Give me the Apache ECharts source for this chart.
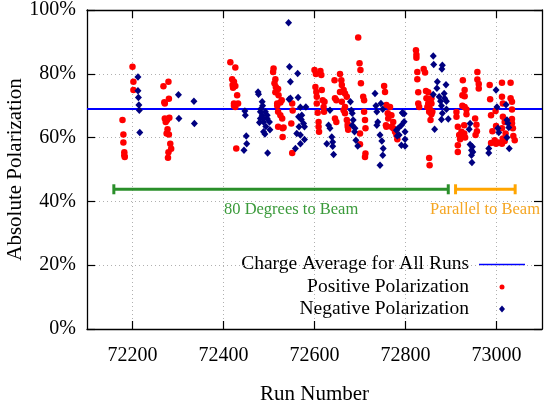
<!DOCTYPE html>
<html><head><meta charset="utf-8">
<script src="https://cdn.jsdelivr.net/npm/echarts@6/dist/echarts.min.js"></script>
<style>html,body{margin:0;padding:0;background:#fff}#c{width:544px;height:410px}</style>
</head><body><div id="c"></div>
<script>
// ---- data ----
const xTicks = [72200, 72400, 72600, 72800, 73000];
const yTicks = [0, 20, 40, 60, 80, 100];
const averagePolarization = 69.0;
const averageRunRange = [72100, 73100];
const degrees80Range = [72159, 72894];
const parallelRange = [72910, 73041];
const rangeLevel = 43.8;

const positivePolarization = [
  [72178,65.5],[72180,61.0],[72180,58.5],[72182,55.4],[72183,53.9],[72182,54.5],
  [72200,82.2],[72202,77.5],[72202,74.9],
  [72268,76.1],[72279,77.5],[72270,71.1],[72280,72.2],[72271,70.7],[72271,66.0],[72276,65.5],[72281,66.2],
  [72273,64.9],[72277,62.6],[72275,61.3],[72280,61.0],[72283,58.1],[72285,56.5],[72279,55.4],[72278,53.7],
  [72415,83.6],[72426,82.0],[72419,78.3],[72423,77.5],[72420,76.5],[72426,76.2],[72421,75.6],[72430,73.3],
  [72423,70.7],[72432,70.7],[72423,70.0],[72426,69.6],[72428,56.6],
  [72510,81.7],[72509,80.6],[72514,78.3],[72512,77.0],[72515,75.9],[72520,75.2],[72514,74.2],[72521,73.3],
  [72518,70.7],[72525,71.0],[72520,68.1],[72525,67.0],[72529,66.0],[72530,62.9],[72530,60.2],[72520,63.4],
  [72532,63.2],[72518,70.0],[72528,71.7],
  [72551,70.7],[72551,55.2],[72549,64.4],[72552,68.5],
  [72600,81.2],[72603,79.9],[72613,80.9],[72615,79.6],[72602,75.9],[72604,74.3],[72616,74.9],[72605,72.8],
  [72618,71.7],[72622,71.2],[72605,70.7],[72620,69.6],[72607,67.8],[72621,68.1],[72609,64.9],[72609,63.4],[72610,61.8],
  [72644,78.0],[72656,79.9],[72659,78.0],[72660,76.5],[72664,74.9],[72656,74.3],[72667,73.8],[72671,72.8],
  [72645,72.3],[72648,71.7],[72660,71.2],[72667,69.6],[72664,68.6],[72667,67.6],[72645,66.0],[72648,64.9],
  [72671,65.5],[72673,64.2],[72673,63.4],[72674,62.5],
  [72696,91.4],[72699,83.3],[72701,81.2],[72702,77.0],[72700,61.3],[72700,57.9],[72707,72.8],[72709,71.7],
  [72709,68.1],[72711,65.5],[72712,62.9],[72712,55.0],[72711,53.9],
  [72753,76.2],[72755,74.3],[72758,70.2],[72766,69.6],[72761,67.6],[72757,63.9],[72773,64.9],[72773,62.9],
  [72777,61.8],[72780,60.8],[72782,59.5],[72769,67.0],[72762,66.0],[72769,63.4],[72758,63.4],
  [72823,87.4],[72824,86.0],[72824,85.0],[72826,80.6],[72826,78.3],[72828,74.2],[72828,70.7],[72830,69.6],
  [72840,81.5],[72843,80.4],[72845,74.6],[72850,74.2],[72846,72.3],[72857,72.3],[72850,70.7],[72857,70.7],
  [72848,69.6],[72853,69.1],[72852,68.1],[72859,68.1],[72857,67.3],[72855,65.5],[72852,53.6],[72853,51.3],
  [72912,66.5],[72912,68.0],[72915,63.4],[72923,61.8],[72918,60.8],[72920,59.5],[72915,57.6],[72915,55.5],
  [72925,70.0],[72925,73.3],[72926,78.0],[72930,74.9],[72930,73.0],[72930,69.6],[72934,68.8],[72934,67.3],
  [72929,63.9],[72929,61.3],[72931,60.0],
  [72958,80.6],[72958,78.2],[72961,76.8],[72961,75.4],[72953,66.0],[72957,62.0],[72954,60.8],[72956,64.0],
  [72985,76.5],[72986,72.0],[72988,67.0],[72998,68.3],[72999,63.6],[72991,62.0],[72996,59.2],[72988,58.3],
  [72999,58.1],[73005,58.5],
  [73012,77.2],[73031,77.2],[73012,72.8],[73014,70.7],[73031,72.3],[73034,71.2],[73034,68.8],[73014,66.5],
  [73018,64.9],[73034,65.8],[73034,64.5],[73012,62.9],[73036,62.9],[73020,61.3],[73037,60.5],[73040,59.2],
  [73014,59.7],[73018,58.9],[73012,58.1]
];

const negativePolarization = [
  [72212,79.0],[72212,74.7],[72213,72.6],[72214,70.2],[72215,68.6],[72216,61.6],
  [72301,73.4],[72302,66.0],[72335,71.4],[72336,64.4],
  [72447,68.3],[72448,67.0],[72450,60.5],[72451,58.1],[72445,56.0],
  [72476,74.3],[72477,73.6],[72485,71.2],[72486,70.0],[72481,68.1],[72492,68.1],[72485,67.0],[72496,67.0],
  [72481,66.0],[72488,66.0],[72496,66.0],[72479,64.7],[72488,64.9],[72501,64.9],[72488,61.8],[72491,61.1],
  [72497,55.2],[72482,69.0],[72493,63.5],[72502,62.5],
  [72543,96.0],[72545,82.2],[72547,77.5],[72563,80.1],[72547,72.3],[72564,72.6],[72569,69.5],[72581,69.6],
  [72565,66.5],[72572,67.0],[72571,65.7],[72576,64.4],[72566,63.4],[72578,63.4],[72561,61.3],[72569,60.8],
  [72578,59.4],[72569,58.1],[72558,56.6],[72544,72.0],
  [72634,68.6],[72631,63.9],[72634,62.9],[72638,60.2],[72640,58.6],[72640,57.3],[72642,54.7],[72627,58.1],
  [72679,71.2],[72681,68.6],[72683,67.6],[72685,65.5],[72683,63.9],[72689,62.9],[72688,61.8],[72691,59.2],[72695,57.4],
  [72733,73.8],[72735,70.0],[72737,68.1],[72739,64.9],[72737,63.9],[72746,70.7],[72750,68.9],[72744,60.8],
  [72748,58.9],[72751,56.6],[72750,54.5],[72744,51.3],
  [72784,62.9],[72791,63.9],[72782,60.5],[72794,67.6],[72780,62.3],[72786,60.8],[72791,57.6],[72799,57.4],
  [72797,67.5],[72797,65.0],[72799,61.8],[72799,59.5],[72793,67.8],
  [72861,85.6],[72862,82.9],[72881,82.7],[72870,77.5],[72889,76.6],[72861,73.5],[72874,72.8],[72885,73.8],
  [72886,72.3],[72877,71.4],[72890,71.4],[72879,70.0],[72890,68.9],[72881,67.6],[72864,62.6],[72879,65.7],
  [72894,65.8],[72869,75.5],[72880,81.5],
  [72942,64.4],[72940,62.6],[72942,57.8],[72947,57.1],[72945,56.0],[72948,55.5],[72945,54.5],[72946,52.2],
  [72999,74.9],[73001,69.6],[73003,62.9],[73005,61.6],[72983,56.6],[72983,55.2],
  [73021,70.3],[73023,65.5],[73025,64.5],[73027,63.2],[73023,60.0],[73028,56.6]
];

// ---- chart ----
const FONT = 'Liberation Serif';
const chart = echarts.init(document.getElementById('c'), null, {renderer: 'canvas'});
const gridLine = {show: true, lineStyle: {color: '#b0b0b0', type: [1, 3], width: 1}};
const axisLine = {show: true, onZero: false, lineStyle: {color: '#000', width: 1.3}};
const tickStyle = {color: '#000', width: 1.2};

chart.setOption({
  animation: false,
  backgroundColor: '#fff',
  grid: {left: 87, right: 2, top: 10, bottom: 81, containLabel: false, outerBoundsMode: 'none'},
  xAxis: [{
    type: 'value', min: averageRunRange[0], max: averageRunRange[1], position: 'bottom',
    name: 'Run Number', nameLocation: 'middle', nameGap: 55,
    nameTextStyle: {fontFamily: FONT, fontSize: 21, color: '#000'},
    axisLine: axisLine,
    axisTick: {show: true, inside: true, length: 8, customValues: xTicks, lineStyle: tickStyle},
    axisLabel: {customValues: xTicks, formatter: v => String(v), fontFamily: FONT, fontSize: 20, color: '#000', margin: 17},
    splitLine: gridLine
  }, {
    type: 'value', min: averageRunRange[0], max: averageRunRange[1], position: 'top',
    axisLine: axisLine,
    axisTick: {show: true, inside: true, length: 8, customValues: xTicks, lineStyle: tickStyle},
    axisLabel: {show: false}, splitLine: {show: false}
  }],
  yAxis: [{
    type: 'value', min: 0, max: 100, interval: 20, position: 'left',
    name: 'Absolute Polarization', nameLocation: 'middle', nameGap: 61, nameMoveOverlap: false,
    nameTextStyle: {fontFamily: FONT, fontSize: 21, color: '#000'},
    axisLine: axisLine,
    axisTick: {show: true, inside: true, length: 8, lineStyle: tickStyle},
    axisLabel: {formatter: '{value}%', fontFamily: FONT, fontSize: 20, color: '#000', margin: 11},
    splitLine: gridLine
  }, {
    type: 'value', min: 0, max: 100, interval: 20, position: 'right',
    axisLine: axisLine,
    axisTick: {show: true, inside: true, length: 8, lineStyle: tickStyle},
    axisLabel: {show: false}, splitLine: {show: false}
  }],
  series: [
    {
      name: 'Charge Average for All Runs', type: 'line', symbol: 'none', silent: true,
      data: averageRunRange.map(r => [r, averagePolarization]),
      lineStyle: {color: '#0000ff', width: 2}, z: 1
    },
    {
      name: '80 Degrees to Beam', type: 'line', symbol: 'rect', symbolSize: [3, 10], silent: true,
      data: degrees80Range.map(r => [r, rangeLevel]),
      itemStyle: {color: '#2a8f2a'}, lineStyle: {color: '#2a8f2a', width: 3}
    },
    {
      name: 'Parallel to Beam', type: 'line', symbol: 'rect', symbolSize: [3, 10], silent: true,
      data: parallelRange.map(r => [r, rangeLevel]),
      itemStyle: {color: '#ffa500'}, lineStyle: {color: '#ffa500', width: 3}
    },
    {
      name: 'Positive Polarization', type: 'scatter', symbol: 'circle', symbolSize: 6.5,
      data: positivePolarization, itemStyle: {color: '#ff0000', opacity: 1}, z: 3
    },
    {
      name: 'Negative Polarization', type: 'scatter', symbol: 'diamond', symbolSize: [7, 7.5],
      data: negativePolarization, itemStyle: {color: '#000080', opacity: 1}, z: 4
    }
  ],
  graphic: [
    {type: 'text', left: 224, top: 201, style: {text: '80 Degrees to Beam', fontFamily: FONT, fontSize: 16.5, fill: '#3a9a3a'}},
    {type: 'text', left: 430, top: 201, style: {text: 'Parallel to Beam', fontFamily: FONT, fontSize: 16.5, fill: '#f5a623'}},
    {type: 'text', right: 75, top: 254, style: {text: 'Charge Average for All Runs', fontFamily: FONT, fontSize: 19.5, fill: '#000', align: 'right'}},
    {type: 'text', right: 75, top: 277, style: {text: 'Positive Polarization', fontFamily: FONT, fontSize: 19.5, fill: '#000', align: 'right'}},
    {type: 'text', right: 75, top: 299, style: {text: 'Negative Polarization', fontFamily: FONT, fontSize: 19.5, fill: '#000', align: 'right'}},
    {type: 'line', shape: {x1: 479, y1: 264.5, x2: 525, y2: 264.5}, style: {stroke: '#0000ff', lineWidth: 1.6}},
    {type: 'circle', shape: {cx: 502, cy: 287, r: 2.5}, style: {fill: '#ff0000'}},
    {type: 'polygon', shape: {points: [[502, 305.5], [505, 309], [502, 312.5], [499, 309]]}, style: {fill: '#000080'}}
  ]
});
</script></body></html>
